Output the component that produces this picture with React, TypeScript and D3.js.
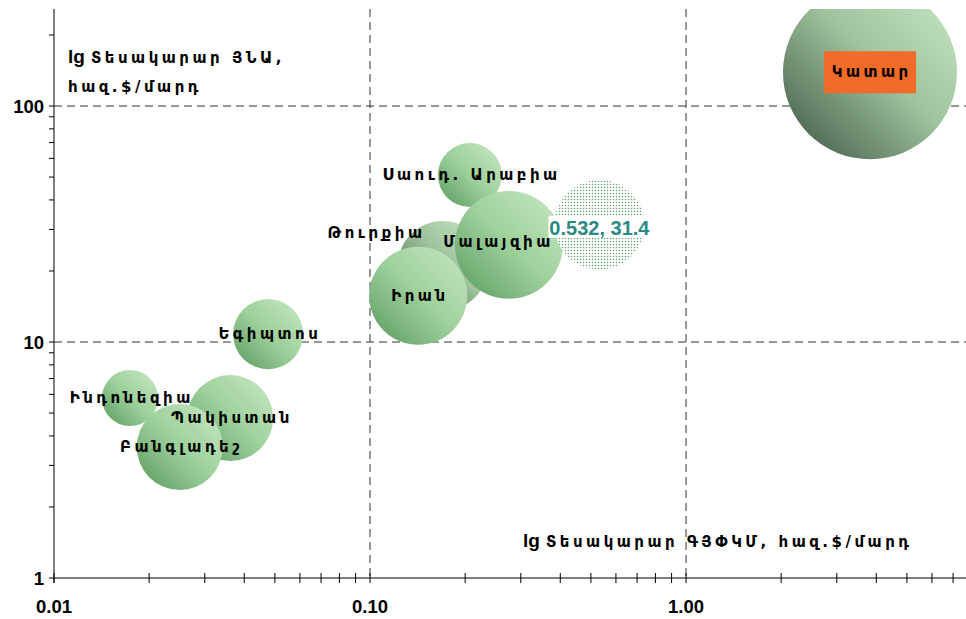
import React from 'react';
import * as d3 from 'd3';

// countries and values
const countries = ["Սաուդ. Արաբիա", "Թուրքիա", "Մալայզիա", "Իրան", "Ինդոնեզիա", "Պակիստան", "Բանգլադեշ", "Եգիպտոս", "Կատար"];
const gdpPpp = [0.207, 0.170, 0.275, 0.142, 0.0174, 0.0361, 0.0250, 0.0476, 3.82];
const gdp = [51.0, 21.0, 25.8, 15.7, 5.79, 4.76, 3.59, 10.8, 139];
const sizes = [13.5, 26.8, 38.5, 31.7, 10.4, 24.4, 24.4, 16.2, 100];
const tones = ["green", "gray", "green", "green", "green", "green", "green", "green", "gray"];

// selected point (dotted bubble)
const selX = 0.532;
const selY = 31.4;
const selSize = 26.8;

const xTickLabels = ["0.01", "0.10", "1.00"];
const yTickLabels = ["1", "10", "100"];

const W = 966, H = 619;
const left = 54, right = 966, top = 9, bottom = 578;

const x_scale = d3.scaleLog().domain([0.01, 7.69]).range([left, right]);
const y_scale = d3.scaleLog().domain([1, 257.7]).range([bottom, top]);
const r_scale = d3.scaleSqrt().domain([0, 100]).range([0, 87]);

const armFont = "'DejaVu Sans', sans-serif";
const numFont = "'Liberation Sans', Arial, sans-serif";
const armSize = 15;
const armGap = 3.5;

// label nudges for the two labels that were moved by hand
const labelShift: { [k: string]: [number, number] } = {
  "Թուրքիա": [-68, -33],
  "Մալայզիա": [-12, -3],
};

const xMinor: number[] = [];
[0.01, 0.1, 1].forEach(d => { for (let i = 2; i <= 9; i++) { const v = d * i; if (v < 7.69) xMinor.push(v); } });
const yMinor: number[] = [];
[1, 10, 100].forEach(d => { for (let i = 2; i <= 9; i++) { const v = d * i; if (v < 257) yMinor.push(v); } });

export default function App() {
  const order = [0, 1, 2, 3, 4, 5, 6, 7, 8];
  return (
    <svg width={W} height={H} style={{ position: 'absolute', left: 0, top: 0, background: '#fff' }}>
      <defs>
        <linearGradient id="gGreen" x1="1" y1="0" x2="0" y2="1">
          <stop offset="0" stopColor="#c9e9c5" />
          <stop offset="0.5" stopColor="#9dd09b" />
          <stop offset="1" stopColor="#58985c" />
        </linearGradient>
        <linearGradient id="gGray" x1="1" y1="0" x2="0" y2="1">
          <stop offset="0" stopColor="#c9e8c5" />
          <stop offset="0.45" stopColor="#9fc49e" />
          <stop offset="1" stopColor="#3a5240" />
        </linearGradient>
        <pattern id="dots" width="3" height="3" patternUnits="userSpaceOnUse">
          <rect width="3" height="3" fill="#fff" />
          <circle cx="1.5" cy="1.5" r="0.75" fill="#5c9f70" />
        </pattern>
        <clipPath id="plot">
          <rect x={left} y={top} width={right - left} height={bottom - top} />
        </clipPath>
      </defs>

      {/* grid */}
      {[0.1, 1].map(v => (
        <line key={'gx' + v} x1={x_scale(v)} x2={x_scale(v)} y1={top} y2={bottom} stroke="#333" strokeDasharray="8,5" />
      ))}
      {[10, 100].map(v => (
        <line key={'gy' + v} x1={left} x2={right} y1={y_scale(v)} y2={y_scale(v)} stroke="#333" strokeDasharray="8,5" />
      ))}

      {/* bubbles */}
      <g clipPath="url(#plot)">
        {order.map(i => (
          <circle key={'b' + i} cx={x_scale(gdpPpp[i])} cy={y_scale(gdp[i])} r={r_scale(sizes[i])}
            fill={tones[i] === 'gray' ? 'url(#gGray)' : 'url(#gGreen)'} />
        ))}
        <circle cx={x_scale(selX)} cy={y_scale(selY)} r={r_scale(selSize)} fill="url(#dots)" />
      </g>

      {/* axes */}
      <line x1={left} x2={left} y1={top} y2={bottom + 5} stroke="#000" />
      <line x1={left} x2={right} y1={bottom} y2={bottom} stroke="#000" />
      {[1, 10, 100].concat(yMinor).map(v => (
        <line key={'ty' + v} x1={left - 5} x2={left} y1={y_scale(v)} y2={y_scale(v)} stroke="#000" />
      ))}
      {[0.01, 0.1, 1].concat(xMinor).map(v => (
        <line key={'tx' + v} x1={x_scale(v)} x2={x_scale(v)} y1={bottom - 5} y2={bottom + 5} stroke="#000" />
      ))}
      {[0.01, 0.1, 1].map((v, i) => (
        <text key={'lx' + v} x={x_scale(v)} y={613} textAnchor="middle" fontFamily={numFont} fontWeight="bold" fontSize={18.5}>{xTickLabels[i]}</text>
      ))}
      {[1, 10, 100].map((v, i) => (
        <text key={'ly' + v} x={44} y={y_scale(v) + 6.5} textAnchor="end" fontFamily={numFont} fontWeight="bold" fontSize={18.5}>{yTickLabels[i]}</text>
      ))}

      {/* axis titles */}
      <text x={68} y={63} fontFamily={armFont} fontWeight="bold" fontSize={armSize} letterSpacing={armGap}>
        <tspan fontFamily={numFont} fontSize={19} letterSpacing={0}>lg</tspan>
        <tspan dx={6}>Տեսակարար ՅՆԱ,</tspan>
      </text>
      <text x={68} y={92} fontFamily={armFont} fontWeight="bold" fontSize={armSize} letterSpacing={armGap}>հազ.$/մարդ</text>
      <text x={523} y={547} fontFamily={armFont} fontWeight="bold" fontSize={armSize} letterSpacing={armGap}>
        <tspan fontFamily={numFont} fontSize={19} letterSpacing={0}>lg</tspan>
        <tspan dx={6}>Տեսակարար ԳՅՓԿՄ, հազ.$/մարդ</tspan>
      </text>

      {/* data labels */}
      {order.map(i => {
        const s = labelShift[countries[i]] || [0, 0];
        const cx = x_scale(gdpPpp[i]) + s[0];
        const cy = y_scale(gdp[i]) + s[1];
        const label = (
          <text x={cx + armGap / 2} y={cy + 5} textAnchor="middle" fontFamily={armFont} fontWeight="bold" fontSize={armSize} letterSpacing={armGap}>{countries[i]}</text>
        );
        if (countries[i] === "Կատար") {
          return (
            <g key={'l' + i}>
              <rect x={cx - 46} y={cy - 21} width={92} height={42} fill="#f26b28" />
              {label}
            </g>
          );
        }
        return <g key={'l' + i}>{label}</g>;
      })}
      <rect x={x_scale(selX) - 51} y={y_scale(selY) - 9} width={102} height={22} fill="#fff" />
      <text x={x_scale(selX)} y={y_scale(selY) + 10} textAnchor="middle" fontFamily={numFont} fontWeight="bold" fontSize={20} fill="#2b8a85">{selX + ', ' + selY}</text>
    </svg>
  );
}
